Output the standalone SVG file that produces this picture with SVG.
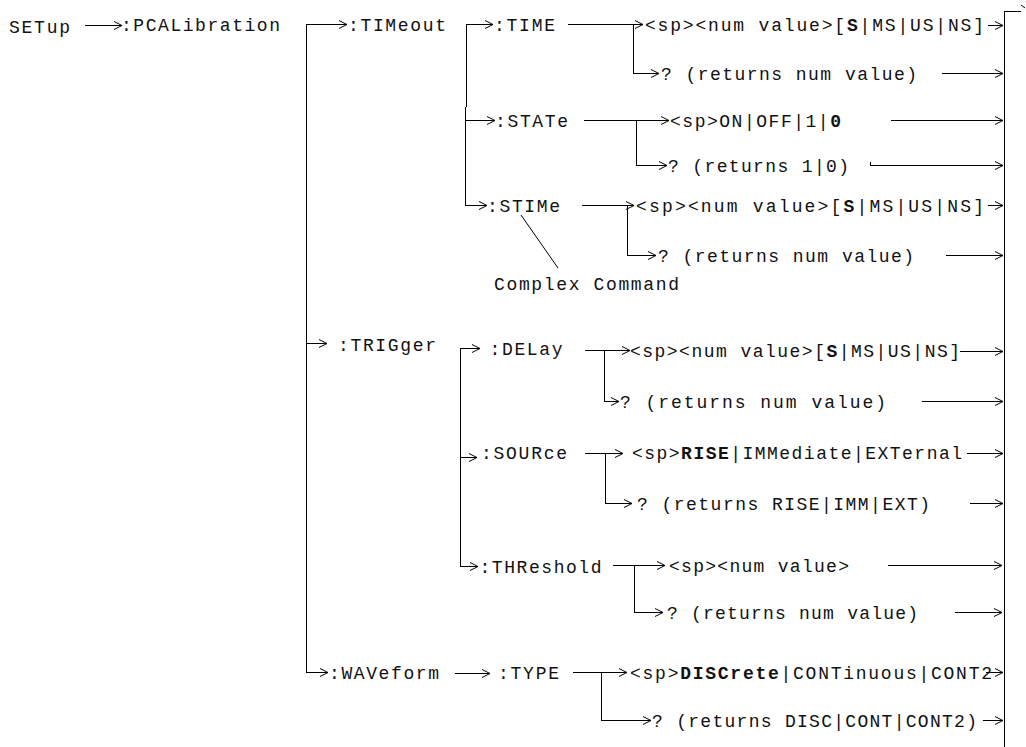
<svg xmlns="http://www.w3.org/2000/svg" width="1026" height="747" viewBox="0 0 1026 747">
<defs>
<marker id="ah" markerUnits="userSpaceOnUse" markerWidth="12" markerHeight="12" viewBox="-10 -6 12 12" refX="0" refY="0" orient="auto" overflow="visible">
<path d="M-8,-4 L0,0 L-8,4" fill="none" stroke="#000" stroke-width="1"/>
</marker>
</defs>
<style>
text{font-family:"Liberation Mono","DejaVu Sans Mono",monospace;font-size:18px;fill:#111;}
.b{font-weight:bold;}
line,polyline{stroke:#000;stroke-width:1;fill:none;}
.a{marker-end:url(#ah);}
</style>
<rect width="1026" height="747" fill="#fff"/>
<g id="connectors">
<line class="a" x1="85" y1="25.5" x2="122" y2="25.5"/>
<line x1="306.5" y1="24" x2="306.5" y2="672.5"/>
<line class="a" x1="306" y1="24.5" x2="347" y2="24.5"/>
<line class="a" x1="306" y1="343.5" x2="327" y2="343.5"/>
<line class="a" x1="306" y1="672.5" x2="328" y2="672.5"/>
<line x1="466.5" y1="24" x2="466.5" y2="107"/>
<line x1="465.5" y1="107" x2="465.5" y2="205.5"/>
<line class="a" x1="466" y1="24.5" x2="493" y2="24.5"/>
<line class="a" x1="465" y1="120.5" x2="495" y2="120.5"/>
<line class="a" x1="465" y1="205.5" x2="487" y2="205.5"/>
<line class="a" x1="568" y1="24.5" x2="643" y2="24.5"/>
<line x1="633.5" y1="24.5" x2="633.5" y2="73.5"/>
<line class="a" x1="633" y1="73.5" x2="659" y2="73.5"/>
<line class="a" x1="988" y1="25.5" x2="1003" y2="25.5"/>
<line class="a" x1="942" y1="73.5" x2="1003" y2="73.5"/>
<line class="a" x1="584" y1="120.5" x2="669" y2="120.5"/>
<line x1="636.5" y1="120.5" x2="636.5" y2="165.5"/>
<line class="a" x1="636" y1="165.5" x2="667" y2="165.5"/>
<line class="a" x1="891" y1="120.5" x2="1003" y2="120.5"/>
<line class="a" x1="870" y1="165.5" x2="1003" y2="165.5"/>
<line x1="870.5" y1="162" x2="870.5" y2="165.5"/>
<line class="a" x1="582" y1="205.5" x2="634" y2="205.5"/>
<line x1="627.5" y1="205.5" x2="627.5" y2="255.5"/>
<line class="a" x1="627" y1="255.5" x2="656" y2="255.5"/>
<line class="a" x1="988" y1="205.5" x2="1003" y2="205.5"/>
<line class="a" x1="946" y1="255.5" x2="1003" y2="255.5"/>
<line x1="521" y1="215" x2="558" y2="268" stroke-width="0.8"/>
<line x1="460.5" y1="348.5" x2="460.5" y2="566.5"/>
<line class="a" x1="460" y1="348.5" x2="480" y2="348.5"/>
<line class="a" x1="460" y1="457.5" x2="477" y2="457.5"/>
<line class="a" x1="460" y1="566.5" x2="478" y2="566.5"/>
<line class="a" x1="585" y1="350.5" x2="630" y2="350.5"/>
<line x1="604.5" y1="350.5" x2="604.5" y2="401.5"/>
<line class="a" x1="604" y1="401.5" x2="619" y2="401.5"/>
<line class="a" x1="960" y1="351.5" x2="1003" y2="351.5"/>
<line class="a" x1="922" y1="401.5" x2="1003" y2="401.5"/>
<line class="a" x1="585" y1="453.5" x2="623" y2="453.5"/>
<line x1="605.5" y1="453.5" x2="605.5" y2="503.5"/>
<line class="a" x1="605" y1="503.5" x2="632" y2="503.5"/>
<line class="a" x1="967" y1="453.5" x2="1003" y2="453.5"/>
<line class="a" x1="970" y1="503.5" x2="1003" y2="503.5"/>
<line class="a" x1="613" y1="565.5" x2="665" y2="565.5"/>
<line x1="634.5" y1="565.5" x2="634.5" y2="612.5"/>
<line class="a" x1="634" y1="612.5" x2="663" y2="612.5"/>
<line class="a" x1="888" y1="565.5" x2="1002" y2="565.5"/>
<line class="a" x1="955" y1="612.5" x2="1002" y2="612.5"/>
<line class="a" x1="455" y1="673.5" x2="490" y2="673.5"/>
<line class="a" x1="573" y1="672.5" x2="627" y2="672.5"/>
<line x1="601.5" y1="672.5" x2="601.5" y2="720.5"/>
<line class="a" x1="601" y1="720.5" x2="651" y2="720.5"/>
<line class="a" x1="986" y1="672.5" x2="1003" y2="672.5"/>
<line class="a" x1="983" y1="720.5" x2="1003" y2="720.5"/>
<line x1="1004.5" y1="11" x2="1004.5" y2="747"/>
<line x1="1004" y1="11.5" x2="1021" y2="11.5"/>
<line x1="1021" y1="5" x2="1025" y2="8"/>
</g>
<g id="setup"><text x="9" y="33" textLength="61" lengthAdjust="spacing">SETup</text></g>
<g id="pcal"><text x="121" y="30.5" textLength="159" lengthAdjust="spacing">:PCALibration</text></g>
<g id="timeout"><text x="348" y="30.5" textLength="98" lengthAdjust="spacing">:TIMeout</text></g>
<g id="time"><text x="494" y="30.5" textLength="61" lengthAdjust="spacing">:TIME</text></g>
<g id="time-set"><text x="645" y="30.5" textLength="339" lengthAdjust="spacing">&lt;sp&gt;&lt;num value&gt;[<tspan class="b">S</tspan>|MS|US|NS]</text></g>
<g id="time-query"><text x="661" y="79.5" textLength="256" lengthAdjust="spacing">? (returns num value)</text></g>
<g id="state"><text x="495" y="126.5" textLength="73" lengthAdjust="spacing">:STATe</text></g>
<g id="state-set"><text x="670" y="126.5" textLength="171" lengthAdjust="spacing">&lt;sp&gt;ON|OFF|1|<tspan class="b">0</tspan></text></g>
<g id="state-query"><text x="668" y="171.5" textLength="181" lengthAdjust="spacing">? (returns 1|0)</text></g>
<g id="stime"><text x="487" y="211.5" textLength="73" lengthAdjust="spacing">:STIMe</text></g>
<g id="stime-set"><text x="636" y="211.5" textLength="348" lengthAdjust="spacing">&lt;sp&gt;&lt;num value&gt;[<tspan class="b">S</tspan>|MS|US|NS]</text></g>
<g id="stime-query"><text x="658" y="261.5" textLength="256" lengthAdjust="spacing">? (returns num value)</text></g>
<g id="complex"><text x="494" y="290" textLength="185" lengthAdjust="spacing">Complex Command</text></g>
<g id="trigger"><text x="338" y="350.5" textLength="98" lengthAdjust="spacing">:TRIGger</text></g>
<g id="delay"><text x="489.5" y="355" textLength="73" lengthAdjust="spacing">:DELay</text></g>
<g id="delay-set"><text x="630" y="357" textLength="330" lengthAdjust="spacing">&lt;sp&gt;&lt;num value&gt;[<tspan class="b">S</tspan>|MS|US|NS]</text></g>
<g id="delay-query"><text x="620" y="408" textLength="266" lengthAdjust="spacing">? (returns num value)</text></g>
<g id="source"><text x="481" y="459" textLength="86" lengthAdjust="spacing">:SOURce</text></g>
<g id="source-set"><text x="632" y="459" textLength="330" lengthAdjust="spacing">&lt;sp&gt;<tspan class="b">RISE</tspan>|IMMediate|EXTernal</text></g>
<g id="source-query"><text x="637" y="509.5" textLength="293" lengthAdjust="spacing">? (returns RISE|IMM|EXT)</text></g>
<g id="threshold"><text x="479.5" y="573" textLength="122" lengthAdjust="spacing">:THReshold</text></g>
<g id="threshold-set"><text x="669" y="571.5" textLength="180" lengthAdjust="spacing">&lt;sp&gt;&lt;num value&gt;</text></g>
<g id="threshold-query"><text x="667" y="618.5" textLength="251" lengthAdjust="spacing">? (returns num value)</text></g>
<g id="waveform"><text x="329" y="678.5" textLength="110" lengthAdjust="spacing">:WAVeform</text></g>
<g id="type"><text x="498" y="679" textLength="61" lengthAdjust="spacing">:TYPE</text></g>
<g id="type-set"><text x="630" y="678.5" textLength="362" lengthAdjust="spacing">&lt;sp&gt;<tspan class="b">DISCrete</tspan>|CONTinuous|CONT2</text></g>
<g id="type-query"><text x="652" y="726.5" textLength="325" lengthAdjust="spacing">? (returns DISC|CONT|CONT2)</text></g>
</svg>
